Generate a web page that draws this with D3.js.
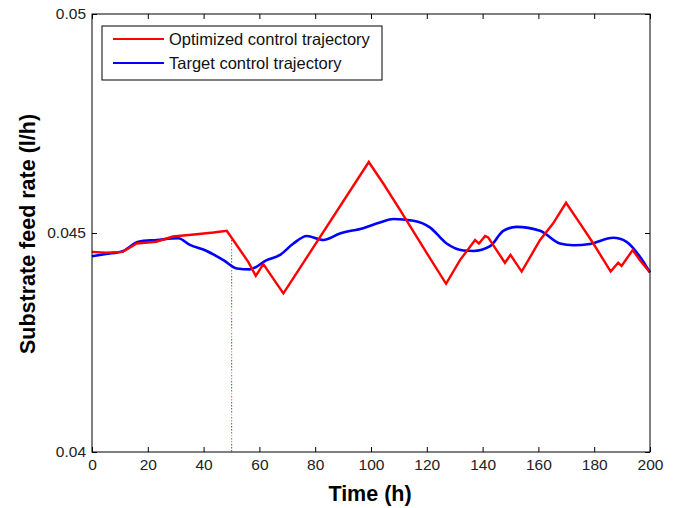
<!DOCTYPE html>
<html><head><meta charset="utf-8">
<script src="https://cdn.jsdelivr.net/npm/d3@7"></script>
<style>body{margin:0;background:#fff}svg{display:block}</style>
</head><body>
<script>
const timeRed = [0,5,11,16,23,29,37.5,43.5,48.3,50.6,56,58.7,61.4,68.6,99.2,104.4,110.4,120,126.9,131.9,137.3,138.7,140.9,142,145,148,150,154,160.6,165.3,169.9,174.9,179.7,185.9,188.6,189.8,193.8,196.4,200];
const optimized = [0.04457,0.04455,0.04457,0.04476,0.04480,0.04492,0.04497,0.04501,0.04505,0.04484,0.04434,0.04402,0.04429,0.04362,0.04662,0.04613,0.04553,0.04454,0.04384,0.04438,0.04484,0.04476,0.04493,0.04490,0.04461,0.04432,0.04450,0.04412,0.04484,0.04522,0.04569,0.04522,0.04476,0.04412,0.04432,0.04425,0.04461,0.04438,0.04410];
const timeBlue = [0,5,11.2,16.6,23.2,30.9,35.1,41.1,47.1,51.9,56.6,62.6,67.4,72.2,77,82.9,88.9,97.2,103.2,108,115.2,121.1,127.1,133.1,136.7,142.7,147.4,152.2,160.6,167.7,172.5,178.5,186.8,191.6,196.4,200];
const target = [0.04447,0.04452,0.04459,0.04480,0.04484,0.04488,0.04473,0.04459,0.04438,0.04419,0.04417,0.04438,0.04450,0.04476,0.04493,0.04484,0.04499,0.04511,0.04524,0.04532,0.04528,0.04513,0.04476,0.04460,0.04459,0.04470,0.04505,0.04514,0.04505,0.04476,0.04472,0.04475,0.04489,0.04480,0.04446,0.04410];
const xTicks = [0,20,40,60,80,100,120,140,160,180,200];
const yTicks = [0.04,0.045,0.05];
const yTickLabels = ["0.04","0.045","0.05"];
const seriesNames = ["Optimized control trajectory","Target control trajectory"];
const markerTime = 50;
const markerTop = 0.04484;

const W=677,H=508, L=92,R=650,T=14,B=452;
const svg=d3.select("body").append("svg").attr("width",W).attr("height",H);
svg.append("rect").attr("width",W).attr("height",H).attr("fill","#fff");
const x=d3.scaleLinear().domain([0,200]).range([L,R]);
const y=d3.scaleLinear().domain([0.04,0.05]).range([B,T]);
const font="'Liberation Sans', Arial, sans-serif";

// dotted marker line
const dotColors=["#6060ff","#808080","#d0d040","#e060e0","#40d0d0","#ff4040","#20a020"];
const dots=d3.range(y(markerTop), B, 3);
svg.selectAll("rect.dot").data(dots).join("rect").attr("class","dot")
  .attr("x",x(markerTime)-0.5).attr("y",d=>d).attr("width",1.2).attr("height",1.5)
  .attr("fill",(d,i)=>dotColors[i%dotColors.length]);

const lineR=d3.line().x((d,i)=>x(timeRed[i])).y(d=>y(d));
const lineB=d3.line().x((d,i)=>x(timeBlue[i])).y(d=>y(d)).curve(d3.curveMonotoneX);
svg.append("path").datum(target).attr("d",lineB).attr("fill","none").attr("stroke","#0000ff").attr("stroke-width",2.6);
svg.append("path").datum(optimized).attr("d",lineR).attr("fill","none").attr("stroke","#ff0000").attr("stroke-width",2.4);

// axes
const ax=svg.append("g").attr("transform",`translate(0,${B})`)
  .call(d3.axisBottom(x).tickValues(xTicks).tickSizeInner(-5).tickSizeOuter(0).tickPadding(7));
const ay=svg.append("g").attr("transform",`translate(${L},0)`)
  .call(d3.axisLeft(y).tickValues(yTicks).tickFormat((d,i)=>yTickLabels[i]).tickSizeInner(-5).tickSizeOuter(0).tickPadding(6));
const axT=svg.append("g").attr("transform",`translate(0,${T})`)
  .call(d3.axisTop(x).tickValues(xTicks).tickSizeInner(-5).tickSizeOuter(0).tickFormat(""));
const ayR=svg.append("g").attr("transform",`translate(${R},0)`)
  .call(d3.axisRight(y).tickValues(yTicks).tickSizeInner(-5).tickSizeOuter(0).tickFormat(""));
[ax,ay,axT,ayR].forEach(g=>{
  g.select(".domain").remove();
  g.selectAll("line").attr("stroke","#000");
  g.selectAll("text").attr("font-family",font).attr("font-size",15.5).attr("fill","#222");
});
svg.append("rect").attr("x",L).attr("y",T).attr("width",R-L).attr("height",B-T)
  .attr("fill","none").attr("stroke","#000").attr("stroke-width",1);

// labels
svg.append("text").attr("x",370).attr("y",501).attr("text-anchor","middle")
  .attr("font-family",font).attr("font-weight","bold").attr("font-size",21.5).text("Time (h)");
svg.append("text").attr("transform",`translate(35,${(T+B)/2+1}) rotate(-90)`).attr("text-anchor","middle")
  .attr("font-family",font).attr("font-weight","bold").attr("font-size",21.5).text("Substrate feed rate (l/h)");

// legend
const lg=svg.append("g");
lg.append("rect").attr("x",102).attr("y",26).attr("width",280).attr("height",54)
  .attr("fill","#fff").attr("stroke","#000");
const lcolors=["#ff0000","#0000ff"];
seriesNames.forEach((n,i)=>{
  const yy=39+i*24;
  lg.append("line").attr("x1",113).attr("x2",164).attr("y1",yy).attr("y2",yy).attr("stroke",lcolors[i]).attr("stroke-width",2);
  lg.append("text").attr("x",169).attr("y",yy+6).attr("font-family",font).attr("font-size",16.5).attr("fill","#111").text(n);
});
</script>
</body></html>
